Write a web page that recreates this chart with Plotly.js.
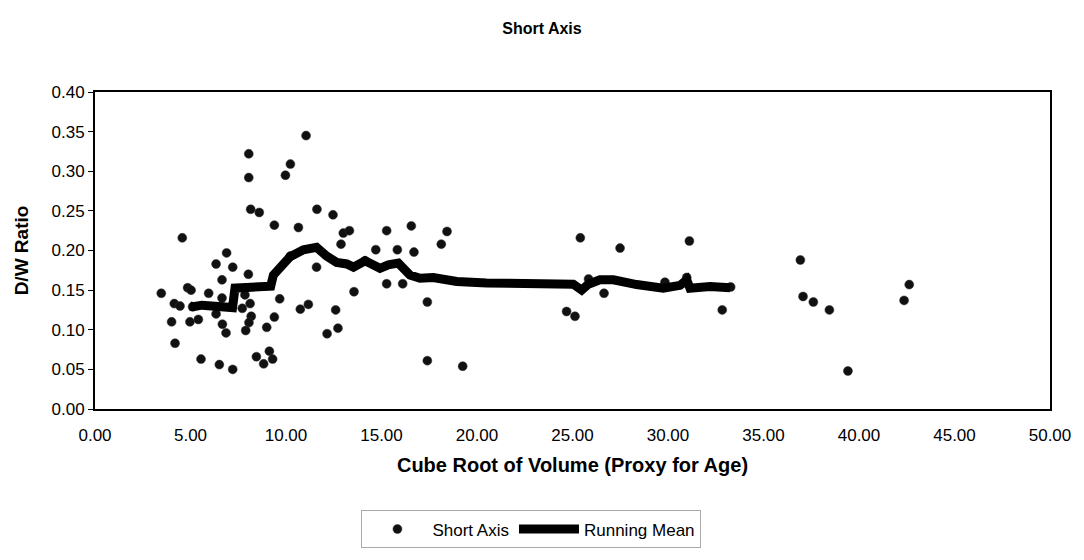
<!DOCTYPE html>
<html>
<head>
<meta charset="utf-8">
<script src="https://cdn.plot.ly/plotly-3.0.1.min.js"></script>
<style>html,body{margin:0;padding:0;background:#fff;}#chart{width:1084px;height:560px;}</style>
</head>
<body>
<div id="chart"></div>
<script>
// Short Axis scatter points (cube root of volume, D/W ratio)
const shortX = [11.05, 8.05, 10.23, 8.05, 9.97, 8.15, 8.60, 9.39, 10.65, 4.57,
  10.23, 6.89, 6.34, 7.21, 8.03, 6.65, 4.85, 5.03, 3.47, 5.95,
  7.82, 7.85, 9.67, 4.15, 4.45, 5.11, 6.65, 8.12, 7.71, 10.75,
  11.17, 6.34, 4.01, 4.97, 5.41, 8.18, 8.06, 6.67, 6.86, 7.89,
  9.39, 8.99, 4.19, 5.55, 6.51, 7.21, 8.45, 9.13, 9.30, 8.83,
  11.62, 12.46, 13.00, 13.32, 12.88, 14.70, 11.60, 14.14, 13.56, 12.60,
  12.72, 12.15, 15.27, 15.83, 16.56, 16.70, 18.43, 18.13, 15.27, 16.11,
  17.40, 17.40, 19.25, 25.41, 27.49, 31.12, 25.84, 26.65, 24.69, 25.13,
  29.84, 30.98, 33.28, 32.84, 36.93, 37.07, 37.61, 38.45, 39.42, 42.63,
  42.36];
const shortY = [0.345, 0.322, 0.309, 0.292, 0.295, 0.252, 0.248, 0.232, 0.229, 0.216,
  0.193, 0.197, 0.183, 0.179, 0.170, 0.163, 0.153, 0.150, 0.146, 0.146,
  0.152, 0.144, 0.139, 0.133, 0.130, 0.129, 0.140, 0.133, 0.127, 0.126,
  0.132, 0.120, 0.110, 0.110, 0.113, 0.117, 0.109, 0.107, 0.096, 0.099,
  0.116, 0.103, 0.083, 0.063, 0.056, 0.050, 0.066, 0.073, 0.063, 0.057,
  0.252, 0.245, 0.222, 0.225, 0.208, 0.201, 0.179, 0.187, 0.148, 0.125,
  0.102, 0.095, 0.225, 0.201, 0.231, 0.198, 0.224, 0.208, 0.158, 0.158,
  0.135, 0.061, 0.054, 0.216, 0.203, 0.212, 0.164, 0.146, 0.123, 0.117,
  0.160, 0.166, 0.154, 0.125, 0.188, 0.142, 0.135, 0.125, 0.048, 0.157,
  0.137];

// Running mean line
const meanX = [4.97, 5.15, 5.60, 6.10, 6.89, 7.20, 7.33, 8.00, 8.99, 9.20,
  9.34, 9.69, 10.21, 10.91, 11.60, 12.13, 12.48, 12.65, 13.18, 13.53,
  14.14, 14.75, 14.92, 15.36, 15.88, 16.49, 17.02, 17.71, 18.94, 20.50,
  23.82, 25.04, 25.48, 25.83, 26.44, 27.14, 28.36, 29.75, 30.63, 30.98,
  31.15, 32.20, 33.25];
const meanY = [0.130, 0.129, 0.131, 0.130, 0.127, 0.128, 0.1525, 0.1525, 0.1525, 0.155,
  0.169, 0.179, 0.192, 0.201, 0.204, 0.193, 0.188, 0.185, 0.183, 0.179,
  0.187, 0.179, 0.1775, 0.182, 0.184, 0.169, 0.165, 0.166, 0.161, 0.159,
  0.159, 0.1575, 0.150, 0.1575, 0.163, 0.163, 0.157, 0.1525, 0.156, 0.163,
  0.1525, 0.1546, 0.153];

const xTickVals = [0, 5, 10, 15, 20, 25, 30, 35, 40, 45, 50];
const yTickVals = [0, 0.05, 0.10, 0.15, 0.20, 0.25, 0.30, 0.35, 0.40];

const font = "Liberation Sans, Arial, sans-serif";

const traces = [
  {
    x: shortX, y: shortY, type: 'scatter', mode: 'markers', name: 'Short Axis',
    marker: {color: '#111111', size: 9, symbol: 'circle', line: {color: '#333333', width: 0.5}}
  },
  {
    x: meanX, y: meanY, type: 'scatter', mode: 'lines', name: 'Running Mean',
    line: {color: '#000000', width: 9}
  }
];

const layout = {
  width: 1084, height: 560,
  paper_bgcolor: '#ffffff', plot_bgcolor: '#ffffff',
  margin: {l: 95, r: 34, t: 92, b: 148},
  font: {family: font, color: '#000', size: 14},
  title: {text: '<b>Short Axis</b>', x: 0.5, xanchor: 'center', y: 0.95, yanchor: 'middle',
          font: {family: font, size: 16, color: '#000'}},
  xaxis: {
    range: [0, 50], tickvals: xTickVals, ticktext: xTickVals.map(v => v.toFixed(2)),
    ticks: '', showgrid: false, zeroline: false, automargin: false,
    showline: true, linecolor: '#000', linewidth: 2, mirror: true,
    ticklabelstandoff: 10,
    tickfont: {family: font, size: 17, color: '#000'},
    title: {text: '<b>Cube Root of Volume (Proxy for Age)</b>', standoff: 14,
            font: {family: font, size: 20, color: '#000'}}
  },
  yaxis: {
    range: [0, 0.40], tickvals: yTickVals, ticktext: yTickVals.map(v => v.toFixed(2)),
    ticks: 'outside', ticklen: 5, tickcolor: '#000', tickwidth: 1,
    showgrid: false, zeroline: false, automargin: false,
    showline: true, linecolor: '#000', linewidth: 2, mirror: true,
    tickfont: {family: font, size: 17, color: '#000'},
    title: {text: '<b>D/W Ratio</b>', standoff: 18,
            font: {family: font, size: 19, color: '#000'}}
  },
  legend: {
    orientation: 'h', x: 0.457, xanchor: 'center', y: -0.44, yanchor: 'bottom',
    bordercolor: '#aaa', borderwidth: 1, bgcolor: '#fff',
    font: {family: font, size: 17, color: '#000'},
    itemwidth: 60, tracegroupgap: 0
  },
  showlegend: true
};

Plotly.newPlot('chart', traces, layout, {displayModeBar: false, staticPlot: true});
</script>
</body>
</html>
